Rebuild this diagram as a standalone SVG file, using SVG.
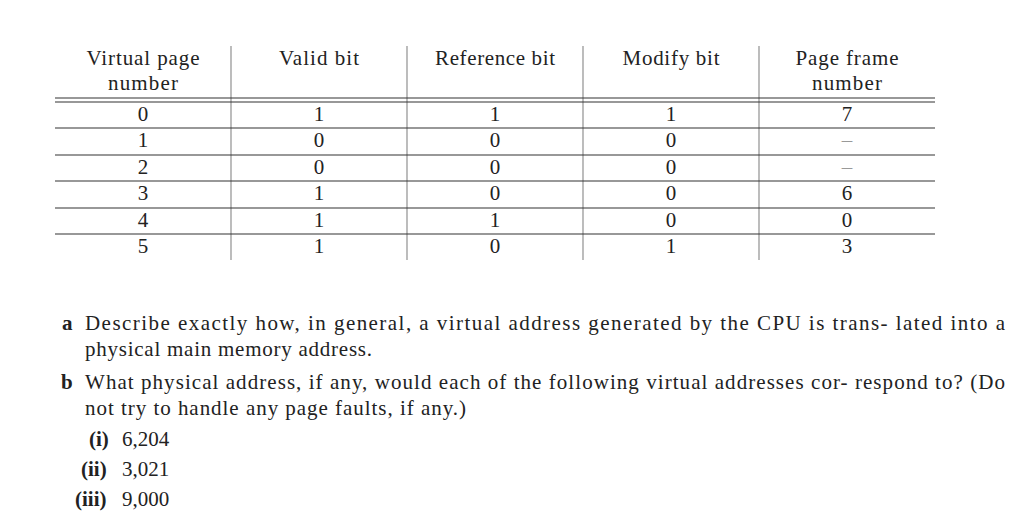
<svg xmlns="http://www.w3.org/2000/svg" width="1024" height="520" viewBox="0 0 1024 520">
<style>
text{font-family:"Liberation Serif","DejaVu Serif",serif;font-size:21px;fill:#222}
.c{text-anchor:middle}
.h{stroke:#333;stroke-width:1.2}
.v{stroke:#999;stroke-width:1.3}
.b{font-weight:bold}
</style>
<rect width="1024" height="520" fill="#fff"/>
<g id="table">
<g id="grid">
<line class="v" x1="231" y1="46" x2="231" y2="260"/>
<line class="v" x1="407" y1="46" x2="407" y2="260"/>
<line class="v" x1="583" y1="46" x2="583" y2="260"/>
<line class="v" x1="759" y1="46" x2="759" y2="260"/>
<line class="h" x1="55" y1="98" x2="935" y2="98"/>
<line class="h" x1="55" y1="102" x2="935" y2="102"/>
<line class="h" x1="55" y1="128" x2="935" y2="128"/>
<line class="h" x1="55" y1="155" x2="935" y2="155"/>
<line class="h" x1="55" y1="181" x2="935" y2="181"/>
<line class="h" x1="55" y1="208" x2="935" y2="208"/>
<line class="h" x1="55" y1="234" x2="935" y2="234"/>
</g>
<g id="header">
<text class="c" x="143" y="65" textLength="113">Virtual page</text><text class="c" x="143" y="90" textLength="70">number</text>
<text class="c" x="319" y="65" textLength="80">Valid bit</text>
<text class="c" x="495" y="65" textLength="120">Reference bit</text>
<text class="c" x="671" y="65" textLength="97">Modify bit</text>
<text class="c" x="847" y="65" textLength="103">Page frame</text><text class="c" x="847" y="90" textLength="70">number</text>
</g>
<g id="rows">
<text class="c" x="143" y="121">0</text><text class="c" x="319" y="121">1</text><text class="c" x="495" y="121">1</text><text class="c" x="671" y="121">1</text><text class="c" x="847" y="121">7</text>
<text class="c" x="143" y="147">1</text><text class="c" x="319" y="147">0</text><text class="c" x="495" y="147">0</text><text class="c" x="671" y="147">0</text><text class="c" x="847" y="147" style="fill:#999">–</text>
<text class="c" x="143" y="174">2</text><text class="c" x="319" y="174">0</text><text class="c" x="495" y="174">0</text><text class="c" x="671" y="174">0</text><text class="c" x="847" y="174" style="fill:#999">–</text>
<text class="c" x="143" y="200">3</text><text class="c" x="319" y="200">1</text><text class="c" x="495" y="200">0</text><text class="c" x="671" y="200">0</text><text class="c" x="847" y="200">6</text>
<text class="c" x="143" y="227">4</text><text class="c" x="319" y="227">1</text><text class="c" x="495" y="227">1</text><text class="c" x="671" y="227">0</text><text class="c" x="847" y="227">0</text>
<text class="c" x="143" y="253">5</text><text class="c" x="319" y="253">1</text><text class="c" x="495" y="253">0</text><text class="c" x="671" y="253">1</text><text class="c" x="847" y="253">3</text>
</g>
</g>
<g id="questions">
<text class="b" x="62" y="330">a</text>
<text x="85" y="330" textLength="920" lengthAdjust="spacing">Describe exactly how, in general, a virtual address generated by the CPU is trans- lated into a</text>
<text x="85" y="356" textLength="287">physical main memory address.</text>
<text class="b" x="61" y="389">b</text>
<text x="85" y="389" textLength="920" lengthAdjust="spacing">What physical address, if any, would each of the following virtual addresses cor- respond to? (Do</text>
<text x="85" y="415" textLength="381">not try to handle any page faults, if any.)</text>
<text class="b" x="89" y="446">(i)</text><text x="122" y="446">6,204</text>
<text class="b" x="81" y="476">(ii)</text><text x="122" y="476">3,021</text>
<text class="b" x="75" y="506">(iii)</text><text x="122" y="506">9,000</text>
</g>
</svg>
